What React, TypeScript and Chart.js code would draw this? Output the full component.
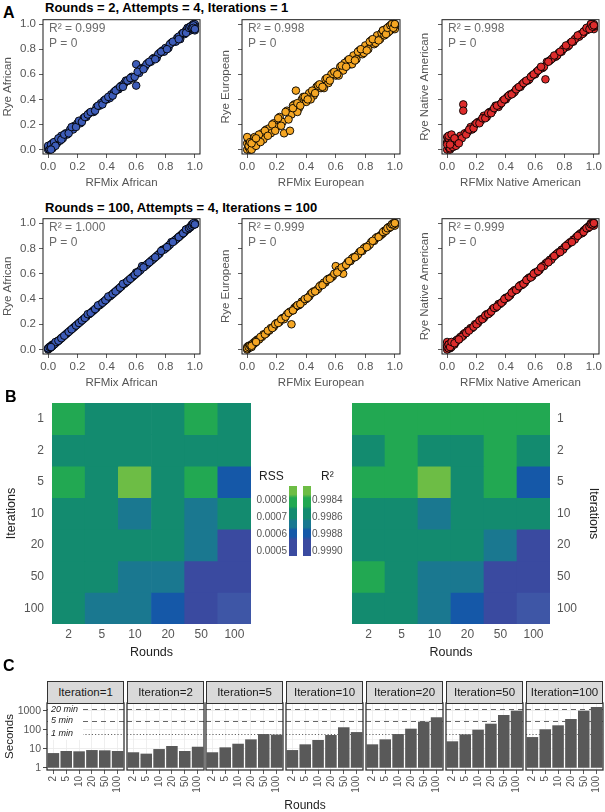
import React, { useEffect, useRef } from 'react';
import { Chart, registerables } from 'chart.js';
Chart.register(...registerables);

const FONT = '"Liberation Sans", Arial, Helvetica, sans-serif';

// ---------- Panel A data (RFMix vs Rye ancestry proportions) ----------
const AXIS_TICKS = [0, 0.2, 0.4, 0.6, 0.8, 1.0];
const RFMIX_AFR = [0.00,0.00,0.01,0.01,0.02,0.02,0.03,0.03,0.04,0.05,0.06,0.07,0.08,0.09,0.10,0.12,0.13,0.15,0.17,0.18,0.20,0.22,0.24,0.26,0.28,0.30,0.33,0.35,0.38,0.40,0.43,0.45,0.48,0.50,0.52,0.55,0.57,0.60,0.60,0.62,0.64,0.66,0.68,0.70,0.72,0.74,0.76,0.78,0.80,0.82,0.84,0.86,0.88,0.90,0.91,0.93,0.94,0.95,0.96,0.97,0.98,0.98,0.99,1.00,1.00,
  0.00,0.01,0.02,0.03,0.04,0.05,0.07,0.09,0.11,0.14,0.16,0.19,0.21,0.23,0.25,0.27,0.31,0.36,0.42,0.47,0.53,0.58,0.63,0.67,0.71,0.75,0.79,0.83,0.87,0.89,0.92,0.95,0.97,0.99,1.00,
  0.29,0.32,0.34,0.37,0.39,0.41,0.44,0.46,0.49,0.51,0.54,0.56,0.59,0.61,0.65,0.69,0.73,0.77,0.81,0.85,0.89,0.92,0.94,0.96,0.97,0.98,0.99,0.99,1.00,0.02];
const RYE_AFR_R2 = [0.00,0.02,0.00,0.03,0.01,0.04,0.02,0.05,0.03,0.06,0.05,0.08,0.07,0.11,0.09,0.13,0.12,0.16,0.16,0.19,0.21,0.21,0.25,0.26,0.29,0.30,0.34,0.35,0.39,0.40,0.44,0.46,0.48,0.51,0.53,0.55,0.58,0.68,0.51,0.61,0.65,0.66,0.69,0.70,0.73,0.73,0.77,0.79,0.81,0.81,0.85,0.86,0.89,0.88,0.92,0.92,0.95,0.94,0.97,0.95,0.99,0.96,1.00,0.95,1.00,
  0.03,0.00,0.04,0.01,0.06,0.03,0.09,0.08,0.12,0.13,0.18,0.18,0.23,0.22,0.26,0.28,0.30,0.37,0.41,0.48,0.55,0.57,0.64,0.68,0.72,0.76,0.78,0.84,0.86,0.90,0.93,0.97,0.98,0.97,0.98,
  0.30,0.31,0.35,0.36,0.40,0.42,0.43,0.47,0.50,0.50,0.55,0.57,0.58,0.62,0.64,0.70,0.72,0.78,0.80,0.86,0.88,0.93,0.93,0.97,0.98,0.97,0.99,0.97,0.96,0.00];
const RYE_AFR_R100 = [0.00,0.01,0.01,0.02,0.02,0.03,0.03,0.04,0.04,0.05,0.06,0.07,0.08,0.09,0.10,0.12,0.13,0.15,0.17,0.18,0.20,0.22,0.24,0.26,0.28,0.30,0.33,0.35,0.38,0.40,0.43,0.45,0.48,0.50,0.52,0.55,0.57,0.61,0.60,0.62,0.66,0.66,0.68,0.70,0.72,0.74,0.76,0.79,0.80,0.82,0.85,0.86,0.88,0.90,0.91,0.93,0.95,0.95,0.96,0.97,0.98,0.99,0.99,1.00,0.99,
  0.01,0.02,0.02,0.03,0.04,0.06,0.07,0.09,0.11,0.14,0.16,0.19,0.21,0.23,0.25,0.28,0.31,0.36,0.42,0.47,0.53,0.58,0.63,0.67,0.71,0.75,0.79,0.83,0.87,0.89,0.92,0.95,0.97,0.99,1.00,
  0.29,0.32,0.35,0.37,0.39,0.42,0.44,0.46,0.49,0.52,0.54,0.56,0.59,0.61,0.65,0.69,0.73,0.78,0.81,0.85,0.89,0.92,0.95,0.96,0.97,0.98,0.99,1.00,0.99,0.02];
const RFMIX_EUR = [0.00,0.00,0.01,0.01,0.02,0.02,0.03,0.04,0.05,0.06,0.07,0.08,0.10,0.11,0.13,0.15,0.16,0.18,0.20,0.22,0.24,0.25,0.27,0.29,0.30,0.32,0.33,0.35,0.37,0.40,0.42,0.45,0.47,0.50,0.53,0.55,0.58,0.60,0.63,0.65,0.68,0.70,0.72,0.74,0.76,0.78,0.80,0.82,0.84,0.86,0.88,0.90,0.91,0.93,0.94,0.95,0.96,0.97,0.98,0.98,0.99,0.99,1.00,1.00,1.00,
  0.00,0.01,0.02,0.03,0.04,0.05,0.06,0.08,0.09,0.12,0.14,0.17,0.19,0.21,0.23,0.26,0.28,0.31,0.34,0.38,0.43,0.48,0.52,0.57,0.62,0.66,0.71,0.75,0.79,0.83,0.87,0.92,0.96,0.99,1.00,
  0.31,0.34,0.36,0.39,0.41,0.44,0.46,0.49,0.51,0.54,0.56,0.59,0.61,0.64,0.67,0.69,0.73,0.77,0.81,0.85,0.89,0.92,0.94,0.95,0.97,0.98,0.99,1.00,0.03,0.06];
const RYE_EUR_R2 = [0.00,0.05,0.02,0.08,0.00,0.04,0.07,0.02,0.09,0.05,0.10,0.06,0.13,0.08,0.16,0.17,0.13,0.21,0.18,0.26,0.22,0.13,0.31,0.15,0.28,0.36,0.47,0.33,0.40,0.38,0.45,0.43,0.50,0.49,0.56,0.53,0.61,0.59,0.66,0.63,0.71,0.68,0.75,0.72,0.79,0.76,0.83,0.80,0.87,0.84,0.91,0.88,0.93,0.91,0.96,0.93,0.98,0.95,1.00,0.96,1.00,0.97,1.00,0.98,0.96,
  0.10,0.03,0.06,0.00,0.06,0.10,0.03,0.12,0.06,0.15,0.11,0.20,0.15,0.25,0.19,0.30,0.24,0.35,0.30,0.42,0.40,0.51,0.49,0.60,0.59,0.69,0.68,0.78,0.77,0.86,0.85,0.95,0.94,1.00,0.99,
  0.33,0.37,0.35,0.42,0.40,0.47,0.45,0.52,0.50,0.57,0.55,0.62,0.60,0.67,0.66,0.72,0.71,0.80,0.79,0.88,0.87,0.95,0.92,0.97,0.99,1.00,0.97,1.00,0.05,0.09];
const RYE_EUR_R100 = [0.00,0.02,0.01,0.03,0.02,0.03,0.04,0.04,0.06,0.06,0.08,0.08,0.10,0.12,0.13,0.15,0.17,0.18,0.21,0.22,0.25,0.24,0.28,0.30,0.20,0.33,0.34,0.35,0.38,0.40,0.42,0.46,0.47,0.51,0.53,0.56,0.58,0.66,0.63,0.60,0.69,0.70,0.73,0.74,0.77,0.78,0.81,0.82,0.85,0.86,0.89,0.90,0.91,0.94,0.94,0.96,0.96,0.97,0.98,0.99,0.99,1.00,1.00,0.98,1.00,
  0.01,0.02,0.03,0.02,0.05,0.05,0.07,0.08,0.10,0.12,0.15,0.17,0.20,0.21,0.24,0.26,0.29,0.31,0.35,0.38,0.44,0.48,0.53,0.57,0.63,0.66,0.72,0.75,0.80,0.83,0.88,0.92,0.97,0.99,1.00,
  0.31,0.35,0.36,0.40,0.41,0.45,0.46,0.50,0.51,0.55,0.56,0.60,0.61,0.65,0.67,0.70,0.73,0.78,0.81,0.86,0.89,0.93,0.94,0.96,0.97,0.99,0.99,1.00,0.03,0.06];
const RFMIX_NAT = [0.00,0.00,0.00,0.01,0.01,0.02,0.02,0.03,0.04,0.05,0.06,0.08,0.09,0.11,0.11,0.12,0.14,0.16,0.17,0.19,0.21,0.23,0.25,0.27,0.29,0.31,0.33,0.35,0.38,0.40,0.43,0.45,0.48,0.50,0.53,0.55,0.58,0.60,0.63,0.65,0.67,0.68,0.70,0.72,0.74,0.76,0.78,0.80,0.82,0.84,0.86,0.88,0.90,0.91,0.93,0.94,0.95,0.96,0.97,0.98,0.98,0.99,0.99,1.00,1.00,
  0.00,0.01,0.02,0.03,0.04,0.05,0.06,0.07,0.10,0.13,0.15,0.18,0.20,0.22,0.24,0.26,0.28,0.30,0.32,0.36,0.41,0.46,0.51,0.56,0.61,0.66,0.71,0.75,0.79,0.83,0.87,0.92,0.96,0.99,1.00,
  0.34,0.37,0.39,0.42,0.44,0.47,0.49,0.52,0.54,0.57,0.59,0.62,0.64,0.69,0.73,0.77,0.81,0.85,0.89,0.93,0.95,0.97,0.98,0.99,1.00,0.01,0.02,0.03,0.05,0.08];
const RYE_NAT_R2 = [0.00,0.06,0.10,0.02,0.08,0.00,0.05,0.03,0.07,0.04,0.08,0.07,0.11,0.36,0.31,0.13,0.14,0.18,0.16,0.20,0.22,0.23,0.27,0.26,0.30,0.31,0.35,0.34,0.39,0.40,0.44,0.45,0.49,0.50,0.54,0.55,0.59,0.60,0.64,0.65,0.56,0.70,0.71,0.73,0.74,0.77,0.78,0.81,0.82,0.85,0.86,0.89,0.90,0.92,0.93,0.95,0.95,0.97,0.97,1.00,0.98,1.00,0.97,1.00,0.96,
  0.04,0.09,0.01,0.06,0.02,0.09,0.03,0.06,0.09,0.12,0.16,0.17,0.21,0.21,0.25,0.25,0.29,0.29,0.33,0.36,0.42,0.46,0.52,0.56,0.62,0.66,0.72,0.75,0.80,0.83,0.88,0.92,0.97,0.99,0.98,
  0.35,0.37,0.40,0.43,0.44,0.48,0.50,0.53,0.55,0.58,0.60,0.63,0.66,0.70,0.75,0.78,0.83,0.86,0.91,0.94,0.97,0.96,1.00,0.98,0.99,0.11,0.04,0.12,0.09,0.05];
const RYE_NAT_R100 = [0.00,0.03,0.06,0.02,0.04,0.01,0.03,0.04,0.05,0.05,0.07,0.08,0.10,0.12,0.11,0.13,0.15,0.17,0.17,0.20,0.21,0.24,0.25,0.28,0.29,0.32,0.33,0.36,0.38,0.41,0.43,0.46,0.48,0.51,0.53,0.56,0.58,0.61,0.63,0.66,0.68,0.69,0.71,0.73,0.75,0.77,0.79,0.81,0.83,0.85,0.87,0.89,0.91,0.92,0.94,0.95,0.96,0.97,0.98,0.99,1.00,0.99,1.00,0.98,1.00,
  0.02,0.01,0.04,0.02,0.05,0.04,0.06,0.08,0.10,0.13,0.15,0.18,0.20,0.23,0.24,0.27,0.28,0.30,0.33,0.36,0.41,0.47,0.51,0.57,0.61,0.66,0.71,0.76,0.79,0.84,0.87,0.92,0.96,0.99,1.00,
  0.34,0.37,0.40,0.42,0.45,0.47,0.50,0.52,0.55,0.57,0.60,0.62,0.65,0.69,0.74,0.77,0.82,0.85,0.90,0.93,0.96,0.97,0.99,0.99,1.00,0.04,0.02,0.06,0.05,0.08];
const R2_ROW1 = ['R\u00B2 = 0.999', 'R\u00B2 = 0.998', 'R\u00B2 = 0.998'];
const R2_ROW2 = ['R\u00B2 = 1.000', 'R\u00B2 = 0.999', 'R\u00B2 = 0.999'];
const P_TEXT = 'P = 0';

// ---------- Panel B data ----------
const ROUNDS = ['2', '5', '10', '20', '50', '100'];
const ITERATIONS = ['1', '2', '5', '10', '20', '50', '100'];
const RSS_VALUES = [
  [0.00078, 0.00070, 0.00070, 0.00070, 0.00078, 0.00070],
  [0.00071, 0.00070, 0.00069, 0.00070, 0.00070, 0.00071],
  [0.00078, 0.00070, 0.00085, 0.00070, 0.00078, 0.00057],
  [0.00070, 0.00070, 0.00063, 0.00070, 0.00063, 0.00070],
  [0.00070, 0.00070, 0.00069, 0.00069, 0.00063, 0.00051],
  [0.00070, 0.00069, 0.00063, 0.00063, 0.00051, 0.00051],
  [0.00070, 0.00063, 0.00063, 0.00057, 0.00051, 0.00048],
];
const R2_VALUES = [
  [0.99845, 0.99845, 0.99845, 0.99845, 0.99845, 0.99845],
  [0.99860, 0.99845, 0.99860, 0.99860, 0.99845, 0.99860],
  [0.99845, 0.99845, 0.99830, 0.99860, 0.99845, 0.99885],
  [0.99860, 0.99860, 0.99875, 0.99860, 0.99860, 0.99860],
  [0.99860, 0.99860, 0.99860, 0.99860, 0.99875, 0.99895],
  [0.99845, 0.99860, 0.99875, 0.99875, 0.99895, 0.99895],
  [0.99860, 0.99860, 0.99875, 0.99885, 0.99895, 0.99900],
];
const RSS_LEGEND = ['0.0008', '0.0007', '0.0006', '0.0005'];
const R2_LEGEND = ['0.9984', '0.9986', '0.9988', '0.9990'];

// ---------- Panel C data ----------
const FACETS = ['1', '2', '5', '10', '20', '50', '100'];
const SECONDS = [
  [5.9, 7.6, 7.3, 8.5, 8.2, 7.6],
  [6.5, 5.5, 9.6, 13.9, 7.6, 12.7],
  [6.5, 11.8, 18.3, 31, 59, 55],
  [8.5, 17, 28.7, 52.5, 134, 75],
  [17, 31, 59, 113, 265, 450],
  [24.5, 57, 100, 207, 593, 1000],
  [41, 105, 170, 365, 1000, 1560],
];
const REF_SECONDS = [1200, 300, 60];
const REF_LABELS = ['20 min', '5 min', '1 min'];
const LOG_TICKS = [1, 3.162, 10, 31.62, 100, 316.2, 1000];
const LOG_MAJOR = [1, 10, 100, 1000];

// ---------- colours ----------
const PALETTE = ['#6dbd45', '#22a852', '#138b6f', '#1a7890', '#1558a8', '#3a4aa0', '#3e56a6'];
function rssColor(v: number) {
  if (v >= 0.00082) return PALETTE[0];
  if (v >= 0.00075) return PALETTE[1];
  if (v >= 0.00066) return PALETTE[2];
  if (v >= 0.0006) return PALETTE[3];
  if (v >= 0.00054) return PALETTE[4];
  if (v >= 0.00049) return PALETTE[5];
  return PALETTE[6];
}
function r2Color(v: number) {
  if (v < 0.99838) return PALETTE[0];
  if (v < 0.99852) return PALETTE[1];
  if (v < 0.99868) return PALETTE[2];
  if (v < 0.9988) return PALETTE[3];
  if (v < 0.9989) return PALETTE[4];
  if (v < 0.99898) return PALETTE[5];
  return PALETTE[6];
}

const BASE_OPTS = {
  animation: false,
  responsive: false,
  events: [],
  devicePixelRatio: 1,
};
const NO_PLUGINS = { legend: { display: false }, tooltip: { enabled: false } };

// remove Chart.js' automatic label padding so chart areas follow the layout padding exactly
function fixSize(s: any, w: number | null, h: number | null) {
  if (w !== null) s.width = w;
  if (h !== null) s.height = h;
  s.paddingTop = 0;
  s.paddingBottom = 0;
  s.paddingLeft = 0;
  s.paddingRight = 0;
}

function framePlugin(color: string, width: number) {
  return {
    id: 'frame',
    afterDraw(chart: any) {
      const { ctx, chartArea: a } = chart;
      ctx.save();
      ctx.strokeStyle = color;
      ctx.lineWidth = width;
      ctx.strokeRect(a.left, a.top, a.right - a.left, a.bottom - a.top);
      ctx.restore();
    },
  };
}

function annotationPlugin(r2: string) {
  return {
    id: 'annot',
    afterDraw(chart: any) {
      const { ctx, chartArea: a } = chart;
      ctx.save();
      ctx.fillStyle = '#6b6b6b';
      ctx.font = `12px ${FONT}`;
      ctx.textBaseline = 'middle';
      ctx.textAlign = 'left';
      ctx.fillText(r2, a.left + 6, a.top + 8.5);
      ctx.fillText(P_TEXT, a.left + 6, a.top + 23.5);
      ctx.restore();
    },
  };
}

function scatterConfig(xs: number[], ys: number[], fill: string, xTitle: string, yTitle: string, yWidth: number, showY: boolean, r2: string) {
  const unitAxis = (title: string, isX: boolean, showLabels: boolean) => ({
    type: 'linear',
    min: -0.035,
    max: 1.035,
    afterBuildTicks: (ax: any) => { ax.ticks = AXIS_TICKS.map((v) => ({ value: v })); },
    afterFit: (s: any) => { if (isX) fixSize(s, null, 37); else fixSize(s, yWidth, null); },
    border: { display: false },
    grid: { display: true, drawOnChartArea: false, drawTicks: true, tickLength: 4, color: '#333', lineWidth: 0.8 },
    ticks: {
      callback: (v: any) => (showLabels ? Number(v).toFixed(1) : ''),
      font: { family: FONT, size: 11.5 },
      color: '#555',
      padding: isX ? 2 : 3,
      maxRotation: 0,
    },
    title: { display: true, text: title, font: { family: FONT, size: 11.5 }, color: '#555', padding: { top: 1, bottom: 1 } },
  });
  return {
    type: 'scatter',
    data: {
      datasets: [{
        data: xs.map((x, i) => ({ x, y: ys[i] })),
        backgroundColor: fill,
        borderColor: '#000',
        borderWidth: 0.9,
        pointRadius: 3.8,
        pointHoverRadius: 3.8,
      }],
    },
    options: {
      ...BASE_OPTS,
      layout: { padding: { top: 4, right: 8, left: 0, bottom: 0 } },
      plugins: NO_PLUGINS,
      scales: { x: unitAxis(xTitle, true, true), y: unitAxis(yTitle, false, showY) },
    },
    plugins: [framePlugin('#1a1a1a', 1), annotationPlugin(r2)],
  };
}

function heatmapConfig(values: number[][], colorFn: (v: number) => string, side: 'left' | 'right') {
  const n = ITERATIONS.length;
  return {
    type: 'bar',
    data: {
      labels: ROUNDS,
      datasets: ITERATIONS.map((it, r) => ({
        label: it,
        data: ROUNDS.map(() => [n - 1 - r, n - r]),
        backgroundColor: values[r].map(colorFn),
        borderWidth: 0,
        barPercentage: 1,
        categoryPercentage: 1,
        grouped: false,
      })),
    },
    options: {
      ...BASE_OPTS,
      layout: { padding: side === 'left' ? { top: 4, right: 2, left: 0, bottom: 0 } : { top: 4, left: 52, right: 0, bottom: 0 } },
      plugins: NO_PLUGINS,
      scales: {
        x: {
          type: 'category',
          offset: true,
          grid: { display: false, drawTicks: false },
          border: { display: false },
          ticks: { font: { family: FONT, size: 12 }, color: '#555', padding: 3, maxRotation: 0 },
          title: { display: true, text: 'Rounds', font: { family: FONT, size: 12.5 }, color: '#222', padding: { top: 0, bottom: 0 } },
          afterFit: (s: any) => fixSize(s, null, 36),
        },
        y: {
          type: 'linear',
          position: side,
          min: 0,
          max: n,
          grid: { display: false, drawTicks: false },
          border: { display: false },
          afterBuildTicks: (ax: any) => { ax.ticks = ITERATIONS.map((_, r) => ({ value: n - 0.5 - r })); },
          ticks: {
            callback: (v: any) => ITERATIONS[Math.round(n - 0.5 - Number(v))],
            font: { family: FONT, size: 12 },
            color: '#555',
            padding: side === 'left' ? 8 : 7,
          },
          title: { display: true, text: 'Iterations', font: { family: FONT, size: 12.5 }, color: '#222', padding: { top: 4, bottom: 4 } },
          afterFit: (s: any) => fixSize(s, side === 'left' ? 52 : 55, null),
        },
      },
    },
  };
}

function refLinesPlugin(withLabels: boolean) {
  return {
    id: 'refLines',
    beforeDatasetsDraw(chart: any) {
      const { ctx, chartArea: a, scales } = chart;
      const y = scales.y;
      ctx.save();
      ctx.strokeStyle = '#555';
      ctx.lineWidth = 0.9;
      REF_SECONDS.forEach((s, i) => {
        const py = Math.round(y.getPixelForValue(s)) + 0.5;
        ctx.setLineDash(i === 2 ? [1.2, 2] : [5, 4]);
        ctx.beginPath();
        ctx.moveTo(a.left, py);
        ctx.lineTo(a.right, py);
        ctx.stroke();
      });
      if (withLabels) {
        ctx.setLineDash([]);
        const bottom = y.getPixelForValue(REF_SECONDS[2]) + 6;
        ctx.fillStyle = '#fff';
        ctx.fillRect(a.left + 1, a.top + 1, 35, bottom - a.top - 1);
        ctx.fillStyle = '#222';
        ctx.font = `italic 9px ${FONT}`;
        ctx.textBaseline = 'middle';
        ctx.textAlign = 'left';
        REF_SECONDS.forEach((s, i) => ctx.fillText(REF_LABELS[i], a.left + 4, y.getPixelForValue(s)));
      }
      ctx.restore();
    },
  };
}

function facetConfig(secs: number[], idx: number) {
  const first = idx === 0;
  return {
    type: 'bar',
    data: {
      labels: ROUNDS,
      datasets: [{
        data: secs.map((v) => [1, v]),
        backgroundColor: '#595959',
        borderWidth: 0,
        barPercentage: 0.9,
        categoryPercentage: 1,
      }],
    },
    options: {
      ...BASE_OPTS,
      layout: { padding: { top: 3, left: first ? 0 : 3, right: 3, bottom: 0 } },
      plugins: NO_PLUGINS,
      scales: {
        x: {
          type: 'category',
          offset: true,
          grid: { display: true, offset: false, color: '#ebebeb', lineWidth: 0.8, tickColor: '#333', tickLength: 4, drawTicks: true },
          border: { display: false },
          ticks: { font: { family: FONT, size: 10 }, color: '#555', minRotation: 90, maxRotation: 90, padding: 2, autoSkip: false },
          afterFit: (s: any) => fixSize(s, null, 26),
        },
        y: {
          type: 'logarithmic',
          min: 0.76,
          max: 2530,
          afterBuildTicks: (ax: any) => { ax.ticks = LOG_TICKS.map((v) => ({ value: v })); },
          border: { display: false },
          grid: {
            display: true,
            color: '#ebebeb',
            lineWidth: (c: any) => (c.tick && LOG_MAJOR.includes(c.tick.value) ? 0.9 : 0.5),
            drawTicks: first,
            tickLength: 4,
            tickColor: (c: any) => (c.tick && LOG_MAJOR.includes(c.tick.value) ? '#333' : 'rgba(0,0,0,0)'),
          },
          ticks: {
            display: first,
            callback: (v: any) => (LOG_MAJOR.includes(Number(v)) ? String(v) : ''),
            font: { family: FONT, size: 10.5 },
            color: '#555',
            padding: 2,
          },
          title: { display: first, text: 'Seconds', font: { family: FONT, size: 11.5 }, color: '#222', padding: { top: 3, bottom: 3 } },
          afterFit: (s: any) => fixSize(s, first ? 47 : 0, null),
        },
      },
    },
    plugins: [refLinesPlugin(first), framePlugin('#333', 1.3)],
  };
}

function ChartBox({ left, top, width, height, make }: { left: number; top: number; width: number; height: number; make: () => any }) {
  const ref = useRef<HTMLCanvasElement>(null);
  useEffect(() => {
    const chart = new Chart(ref.current as HTMLCanvasElement, make());
    return () => chart.destroy();
  }, []);
  return (
    <canvas
      ref={ref}
      width={width}
      height={height}
      style={{ position: 'absolute', left, top, width, height }}
    />
  );
}

function Txt({ x, y, size, children, weight = 400, color = '#222', anchor = 'start', italic = false }: any) {
  const tx = anchor === 'middle' ? 'translateX(-50%)' : anchor === 'end' ? 'translateX(-100%)' : 'none';
  return (
    <div
      style={{
        position: 'absolute',
        left: x,
        top: y - size / 2,
        fontSize: size,
        lineHeight: `${size}px`,
        fontFamily: FONT,
        fontWeight: weight,
        fontStyle: italic ? 'italic' : 'normal',
        color,
        whiteSpace: 'nowrap',
        transform: tx,
      }}
    >
      {children}
    </div>
  );
}

const SCATTER_COLS = [
  { canvasLeft: 0, yWidth: 43, boxRight: 200, showY: true },
  { canvasLeft: 218, yWidth: 24, boxRight: 400, showY: false },
  { canvasLeft: 417, yWidth: 25, boxRight: 599, showY: false },
];
const SCATTER_SERIES = [
  { x: RFMIX_AFR, y1: RYE_AFR_R2, y2: RYE_AFR_R100, fill: '#3d5cb8', xt: 'RFMix African', yt: 'Rye African' },
  { x: RFMIX_EUR, y1: RYE_EUR_R2, y2: RYE_EUR_R100, fill: '#f5a623', xt: 'RFMix European', yt: 'Rye European' },
  { x: RFMIX_NAT, y1: RYE_NAT_R2, y2: RYE_NAT_R100, fill: '#dd2c2c', xt: 'RFMix Native American', yt: 'Rye Native American' },
];
const PANEL_LEFTS = [47, 127, 206, 286, 366, 446, 526];
const PANEL_W = 77;

const LEGEND_GRADIENT = `linear-gradient(to bottom, ${PALETTE[0]} 0%, ${PALETTE[0]} 12%, ${PALETTE[1]} 17%, ${PALETTE[1]} 29%, ${PALETTE[2]} 33%, ${PALETTE[2]} 46%, ${PALETTE[3]} 50%, ${PALETTE[3]} 59%, ${PALETTE[4]} 63%, ${PALETTE[4]} 72%, ${PALETTE[5]} 77%, ${PALETTE[5]} 100%)`;
const LEGEND_Y = [500, 517, 534, 551];

export default function App() {
  return (
    <div style={{ position: 'absolute', left: 0, top: 0, width: 605, height: 812, background: '#fff', overflow: 'hidden' }}>
      {/* Panel A */}
      <Txt x={3} y={12.5} size={16} weight={700} color="#000">A</Txt>
      <Txt x={45} y={7.5} size={13} weight={700} color="#000">Rounds = 2, Attempts = 4, Iterations = 1</Txt>
      <Txt x={45} y={207.5} size={13} weight={700} color="#000">Rounds = 100, Attempts = 4, Iterations = 100</Txt>
      {SCATTER_SERIES.map((s, i) => {
        const c = SCATTER_COLS[i];
        return (
          <React.Fragment key={s.xt}>
            <ChartBox left={c.canvasLeft} top={15} width={c.boxRight + 8 - c.canvasLeft} height={176}
              make={() => scatterConfig(s.x, s.y1, s.fill, s.xt, s.yt, c.yWidth, c.showY, R2_ROW1[i])} />
            <ChartBox left={c.canvasLeft} top={214} width={c.boxRight + 8 - c.canvasLeft} height={177}
              make={() => scatterConfig(s.x, s.y2, s.fill, s.xt, s.yt, c.yWidth, c.showY, R2_ROW2[i])} />
          </React.Fragment>
        );
      })}

      {/* Panel B */}
      <Txt x={5} y={397} size={16} weight={700} color="#000">B</Txt>
      <ChartBox left={0} top={399} width={253} height={261} make={() => heatmapConfig(RSS_VALUES, rssColor, 'left')} />
      <ChartBox left={300} top={399} width={305} height={261} make={() => heatmapConfig(R2_VALUES, r2Color, 'right')} />
      <Txt x={259} y={476} size={12}>RSS</Txt>
      <Txt x={321} y={476} size={12}>R²</Txt>
      <div style={{ position: 'absolute', left: 289, top: 486, width: 8, height: 70, background: LEGEND_GRADIENT }} />
      <div style={{ position: 'absolute', left: 303, top: 486, width: 8, height: 70, background: LEGEND_GRADIENT }} />
      {RSS_LEGEND.map((t, i) => (
        <Txt key={t} x={287} y={LEGEND_Y[i]} size={10} color="#555" anchor="end">{t}</Txt>
      ))}
      {R2_LEGEND.map((t, i) => (
        <Txt key={t} x={312} y={LEGEND_Y[i]} size={10} color="#555">{t}</Txt>
      ))}

      {/* Panel C */}
      <Txt x={3} y={666} size={16} weight={700} color="#000">C</Txt>
      {SECONDS.map((secs, i) => {
        const left = i === 0 ? 0 : PANEL_LEFTS[i] - 3;
        const width = PANEL_LEFTS[i] + PANEL_W + 3 - left;
        return (
          <ChartBox key={FACETS[i]} left={left} top={700} width={width} height={96} make={() => facetConfig(secs, i)} />
        );
      })}
      {FACETS.map((f, i) => (
        <div key={f} style={{
          position: 'absolute', left: PANEL_LEFTS[i], top: 681, width: PANEL_W, height: 23, boxSizing: 'border-box',
          background: '#d9d9d9', border: '1.3px solid #333', fontFamily: FONT, fontSize: 11.5, color: '#1a1a1a',
          textAlign: 'center', lineHeight: '21px',
        }}>{`Iteration=${f}`}</div>
      ))}
      <Txt x={305} y={805} size={12} anchor="middle">Rounds</Txt>
    </div>
  );
}
